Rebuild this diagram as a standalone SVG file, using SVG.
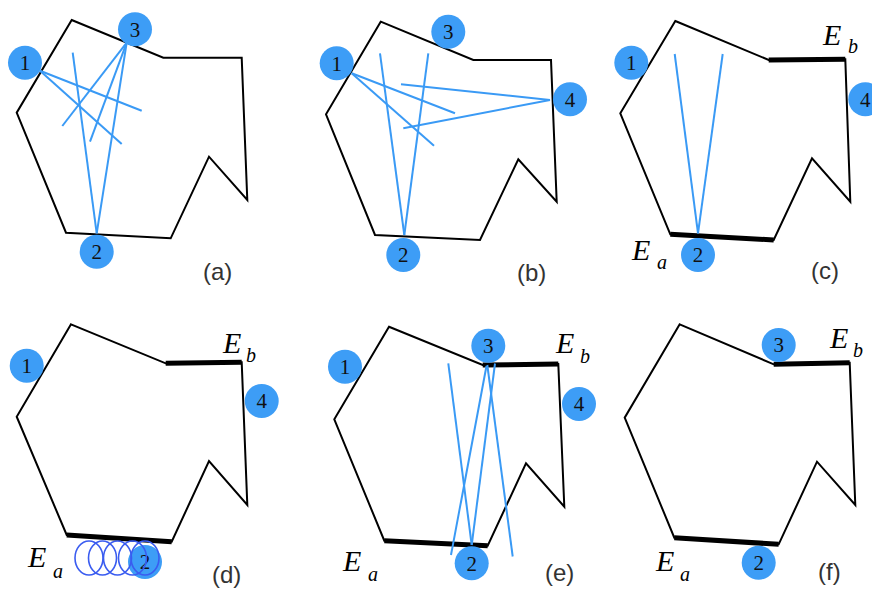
<svg xmlns="http://www.w3.org/2000/svg" width="872" height="590" viewBox="0 0 872 590">
<style>
.poly{fill:none;stroke:#000;stroke-width:2;stroke-linejoin:miter}
.thick{stroke:#000;stroke-width:5;fill:none}
.ray{stroke:#3a9af5;stroke-width:2;fill:none}
.node circle{fill:#3d9df6}
.node text{font-family:"Liberation Serif","Times New Roman",serif;font-size:21px;fill:#111;text-anchor:middle}
.ring{fill:none;stroke:#3a5cf0;stroke-width:1.6}
.E{font-family:"Liberation Serif","Times New Roman",serif;font-style:italic;font-size:30px;fill:#000}
.sub{font-family:"Liberation Serif","Times New Roman",serif;font-style:italic;font-size:20px;fill:#000}
.cap{font-family:"Liberation Sans",Arial,sans-serif;font-size:24px;fill:#333}
</style>
<rect width="872" height="590" fill="#fff"/>

<!-- Panel (a) -->
<g id="panel-a">
<polygon class="poly" points="71.7,20 163.3,57.7 241.7,57.7 247.3,200 209,156.7 170.7,238.3 66,232.7 16.7,112.7"/>
<g id="connectors-a">
<line class="ray" x1="40" y1="70.7" x2="141.7" y2="110.7"/>
<line class="ray" x1="40" y1="70.7" x2="121.7" y2="144"/>
<line class="ray" x1="126.7" y1="42.7" x2="62.3" y2="126"/>
<line class="ray" x1="126.7" y1="42.7" x2="90" y2="141.7"/>
<line class="ray" x1="72.7" y1="52.7" x2="96.7" y2="233.3"/>
<line class="ray" x1="96.7" y1="233.3" x2="126.7" y2="42.7"/>
</g>
<g id="a-node1" class="node"><circle cx="25" cy="62.7" r="17"/><text x="25" y="70">1</text></g>
<g id="a-node3" class="node"><circle cx="135" cy="29.3" r="17"/><text x="135" y="36.6">3</text></g>
<g id="a-node2" class="node"><circle cx="96.7" cy="251.7" r="17"/><text x="96.7" y="259">2</text></g>
<text class="cap" x="203" y="280">(a)</text>
</g>

<!-- Panel (b) -->
<g id="panel-b">
<polygon class="poly" points="380.7,21.7 473.3,60 551,60 556.7,201.7 518.3,159.3 480,240 375,235 326,114.3"/>
<g id="connectors-b">
<line class="ray" x1="351.7" y1="73.3" x2="455" y2="113.3"/>
<line class="ray" x1="351.7" y1="73.3" x2="434" y2="145.7"/>
<line class="ray" x1="380" y1="53.3" x2="404.3" y2="235"/>
<line class="ray" x1="404.3" y1="235" x2="428.3" y2="53.3"/>
<line class="ray" x1="550" y1="100" x2="401" y2="84.3"/>
<line class="ray" x1="550" y1="100" x2="403.3" y2="128.3"/>
</g>
<g id="b-node1" class="node"><circle cx="336.7" cy="63.3" r="17"/><text x="336.7" y="70.6">1</text></g>
<g id="b-node3" class="node"><circle cx="448.3" cy="31.7" r="17"/><text x="448.3" y="39">3</text></g>
<g id="b-node4" class="node"><circle cx="570" cy="99.3" r="17"/><text x="570" y="106.6">4</text></g>
<g id="b-node2" class="node"><circle cx="403.3" cy="255" r="17"/><text x="403.3" y="262.3">2</text></g>
<text class="cap" x="517" y="281">(b)</text>
</g>

<!-- Panel (c) -->
<g id="panel-c">
<polygon class="poly" points="675.3,21 768.7,60 845.3,59.3 850.3,201.7 812,158.3 773.7,240 670.3,234.3 620.3,113.3"/>
<line class="thick" x1="768.7" y1="60" x2="845.3" y2="59.3"/>
<line class="thick" x1="670.3" y1="234.3" x2="773.7" y2="240"/>
<g id="connectors-c">
<line class="ray" x1="674.7" y1="54" x2="698" y2="233.3"/>
<line class="ray" x1="722.7" y1="54" x2="698" y2="233.3"/>
</g>
<g id="c-node1" class="node"><circle cx="631.3" cy="62.7" r="17"/><text x="631.3" y="70">1</text></g>
<g id="c-node4" class="node"><circle cx="865.3" cy="99.3" r="17"/><text x="865.3" y="106.6">4</text></g>
<g id="c-node2" class="node"><circle cx="698" cy="255" r="17"/><text x="698" y="262.3">2</text></g>
<text class="E" x="823" y="45">E</text><text class="sub" x="848" y="53">b</text>
<text class="E" x="632" y="260">E</text><text class="sub" x="657" y="269">a</text>
<text class="cap" x="811" y="279">(c)</text>
</g>

<!-- Panel (d) -->
<g id="panel-d">
<polygon class="poly" points="71,324.3 165.7,363.3 241.7,362.3 247.3,505 209,461 171.7,541.7 66.7,535 16.7,416.7"/>
<line class="thick" x1="165.7" y1="363.3" x2="241.7" y2="362.3"/>
<line class="thick" x1="66.7" y1="535" x2="171.7" y2="541.7"/>
<g id="d-node1" class="node"><circle cx="26.7" cy="365.7" r="17"/><text x="26.7" y="373">1</text></g>
<g id="d-node4" class="node"><circle cx="261.7" cy="401" r="17"/><text x="261.7" y="408.3">4</text></g>
<g id="d-node2" class="node"><circle cx="145" cy="562" r="17"/><text x="145" y="569.3">2</text></g>
<g id="d-rings">
<ellipse class="ring" cx="89" cy="558" rx="14" ry="17"/>
<ellipse class="ring" cx="102.5" cy="558" rx="14" ry="17"/>
<ellipse class="ring" cx="117.5" cy="558" rx="14" ry="17"/>
<ellipse class="ring" cx="132.5" cy="558" rx="14" ry="17"/>
<ellipse class="ring" cx="145" cy="558" rx="14" ry="17"/>
</g>
<text class="E" x="223" y="353">E</text><text class="sub" x="246" y="362">b</text>
<text class="E" x="28" y="567">E</text><text class="sub" x="53" y="578">a</text>
<text class="cap" x="212" y="583">(d)</text>
</g>

<!-- Panel (e) -->
<g id="panel-e">
<polygon class="poly" points="389,326.7 482.7,365 558.3,364 564.3,506.7 526,463.3 487.7,545.7 384.3,540.7 334.3,419.3"/>
<line class="thick" x1="482.7" y1="365" x2="558.3" y2="364"/>
<line class="thick" x1="384.3" y1="540.7" x2="487.7" y2="545.7"/>
<g id="connectors-e">
<line class="ray" x1="448.3" y1="363.3" x2="471.7" y2="545"/>
<line class="ray" x1="495" y1="363.5" x2="471.7" y2="545"/>
<line class="ray" x1="486.5" y1="366" x2="451" y2="555"/>
<line class="ray" x1="487.3" y1="365" x2="512.7" y2="556.5"/>
</g>
<g id="e-node1" class="node"><circle cx="345" cy="366.7" r="17"/><text x="345" y="374">1</text></g>
<g id="e-node3" class="node"><circle cx="488.3" cy="345.7" r="17"/><text x="488.3" y="353">3</text></g>
<g id="e-node4" class="node"><circle cx="579" cy="404" r="17"/><text x="579" y="411.3">4</text></g>
<g id="e-node2" class="node"><circle cx="471.7" cy="563.3" r="17"/><text x="471.7" y="570.6">2</text></g>
<text class="E" x="556" y="353">E</text><text class="sub" x="580" y="363">b</text>
<text class="E" x="343" y="571">E</text><text class="sub" x="368" y="581">a</text>
<text class="cap" x="545" y="581">(e)</text>
</g>

<!-- Panel (f) -->
<g id="panel-f">
<polygon class="poly" points="679.7,324.3 773.7,364.3 849.7,362.7 855.3,505 817,461.7 778.7,544.3 674.3,537.7 624.7,417.7"/>
<line class="thick" x1="773.7" y1="364.3" x2="849.7" y2="362.7"/>
<line class="thick" x1="674.3" y1="537.7" x2="778.7" y2="544.3"/>
<g id="f-node3" class="node"><circle cx="778.7" cy="345" r="17"/><text x="778.7" y="352.3">3</text></g>
<g id="f-node2" class="node"><circle cx="758.7" cy="562.7" r="17"/><text x="758.7" y="570">2</text></g>
<text class="E" x="830" y="348">E</text><text class="sub" x="853" y="357">b</text>
<text class="E" x="656" y="571">E</text><text class="sub" x="680" y="581">a</text>
<text class="cap" x="818" y="580">(f)</text>
</g>
</svg>
